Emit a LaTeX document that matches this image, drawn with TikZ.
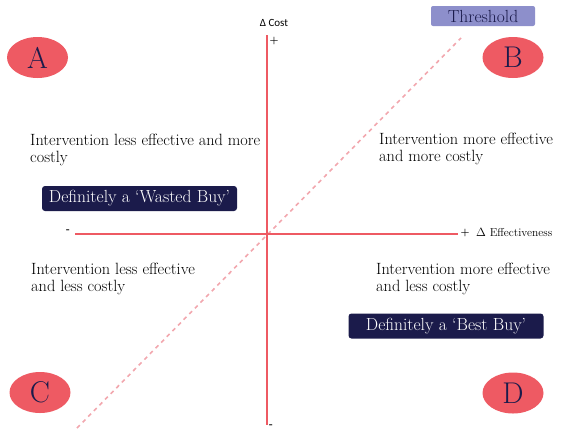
\documentclass[tikz,border=0pt]{standalone}
\usepackage{fontspec}
\usetikzlibrary{shapes.geometric}
\newfontfamily\carlito{Carlito}
\definecolor{axisred}{HTML}{EE5A63}
\definecolor{dashpink}{HTML}{F2A7AE}
\definecolor{navy}{HTML}{1B1B4B}
\definecolor{lilac}{HTML}{8D8FCB}
\begin{document}
\begin{tikzpicture}[x=1pt,y=-1pt,
  quad/.style={ellipse, fill=axisred, minimum width=61pt, minimum height=41pt, inner sep=0pt, text=navy, font=\fontsize{30}{30}\selectfont},
  verdict/.style={rounded corners=3pt, fill=navy, text=white, minimum width=195pt, minimum height=25pt, inner sep=0pt, font=\fontsize{17.5}{17.5}\selectfont},
  desc/.style={anchor=west, align=left, inner sep=0pt, font=\fontsize{16.3}{17}\selectfont},
  axis/.style={draw=axisred, line width=1.6pt},
  sign/.style={inner sep=0pt, font=\bfseries\fontsize{10}{10}\selectfont}]
\useasboundingbox (0,0) rectangle (561,445);
% axes endpoints
\coordinate (ytop) at (267,35);
\coordinate (ybot) at (267,425);
\coordinate (xl) at (75,234);
\coordinate (xr) at (458,234);
\coordinate (d1) at (77,428);
\coordinate (d2) at (461,38);
\draw[dashpink, line width=1.6pt, dash pattern=on 4pt off 4pt] (d1) -- (d2);
\draw[axis] (ytop) -- (ybot);
\draw[axis] (xl) -- (xr);
% axis labels
\node[inner sep=0pt, font=\carlito\fontsize{11}{11}\selectfont] (cost) at (274,23) {Δ Cost};
\node[sign] (yplus) at (274,41) {+};
\node[sign] (yminus) at (271,426) {-};
\node[sign] (xminus) at (68,231) {-};
\node[sign] (xplus) at (465,233) {+};
\node[inner sep=0pt, anchor=west, font=\fontsize{11.5}{11.5}\selectfont] (eff) at (476,232) {$\Delta$ Effectiveness};
% quadrant ellipses
\node[quad] (A) at (37.5,57.5) {A};
\node[quad] (B) at (513,57.5) {B};
\node[quad] (C) at (40,392.5) {C};
\node[quad] (D) at (513,393) {D};
% threshold
\node[rounded corners=2pt, fill=lilac, text=navy, minimum width=104pt, minimum height=20pt, inner sep=0pt, font=\fontsize{17.5}{17.5}\selectfont] (thr) at (483,16) {Threshold};
% descriptions
\node[desc] (qa) at (30,149.5) {Intervention less effective and more\\costly};
\node[desc] (qb) at (379,148.5) {Intervention more effective\\and more costly};
\node[desc] (qc) at (31,278.5) {Intervention less effective\\and less costly};
\node[desc] (qd) at (376,278.5) {Intervention more effective\\and less costly};
% verdict boxes
\node[verdict] (wasted) at (139.5,198.5) {Definitely a `Wasted Buy'};
\node[verdict] (best) at (446,326) {Definitely a `Best Buy'};
\end{tikzpicture}
\end{document}
